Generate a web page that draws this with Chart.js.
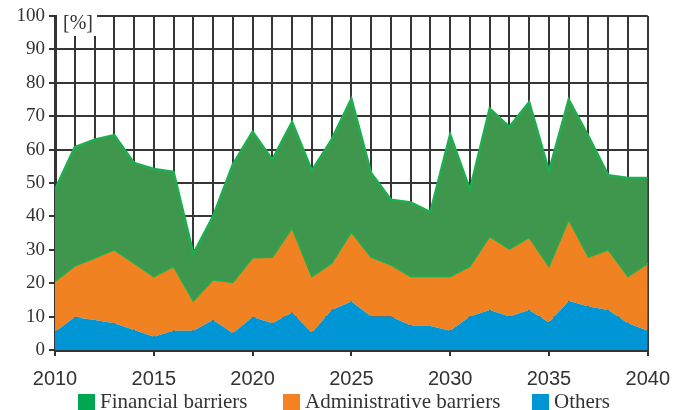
<!DOCTYPE html>
<html>
<head>
<meta charset="utf-8">
<script src="https://cdn.jsdelivr.net/npm/chart.js@4.4.0/dist/chart.umd.min.js"></script>
<style>
  html, body { margin: 0; padding: 0; background: #fff; }
  #wrap { width: 681px; height: 410px; }
</style>
</head>
<body>
<div id="wrap"><canvas id="myChart" width="681" height="410"></canvas></div>
<script>
const years = [2010, 2011, 2012, 2013, 2014, 2015, 2016, 2017, 2018, 2019, 2020,
    2021, 2022, 2023, 2024, 2025, 2026, 2027, 2028, 2029, 2030,
    2031, 2032, 2033, 2034, 2035, 2036, 2037, 2038, 2039, 2040];

// values per series (stacked on top of each other)
const others = [5.5, 9.8, 9, 8, 6, 4, 5.8, 5.8, 9, 5, 9.9,
    8, 11.2, 5.2, 12, 14.5, 10, 10, 7.3, 7.2, 5.8,
    10, 12, 10, 12, 8.2, 14.7, 13, 12, 8, 5.8];
const administrative = [15, 15.4, 18.5, 22, 20, 18, 19.2, 8.9, 12, 15.2, 17.7,
    19.8, 25.3, 16.8, 14, 20.8, 17.8, 15.5, 14.7, 14.8, 16.2,
    15, 22, 20.2, 21.7, 16.8, 24.3, 14.8, 18, 14, 20.2];
const financial = [27.5, 35.5, 35.5, 34.3, 30, 32.2, 28.3, 14.1, 19, 35.3, 37.7,
    29.2, 31.8, 31.7, 37, 39.9, 25.2, 19.5, 22.2, 19.3, 42.5,
    23, 38.3, 36.6, 40.5, 28.5, 36, 36.2, 22.3, 29.5, 25.5];

const seriesNames = ['Financial barriers', 'Administrative barriers', 'Others'];
const xTickLabels = [2010, 2015, 2020, 2025, 2030, 2035, 2040];
const yUnit = '[%]';

const gridColor = '#363636';
const ctx = document.getElementById('myChart').getContext('2d');

const pts = (arr) => years.map((yr, i) => ({ x: yr, y: arr[i] }));

// white box with the unit label in the top left corner
const unitLabel = {
    id: 'unitLabel',
    afterDatasetsDraw(chart) {
        const c = chart.ctx;
        const left = chart.chartArea.left;
        c.save();
        c.fillStyle = '#fff';
        c.fillRect(left + 2, 8, 40, 28);
        c.fillStyle = '#333';
        c.font = '20px "Liberation Serif", "Times New Roman", serif';
        c.textAlign = 'center';
        c.textBaseline = 'middle';
        c.fillText(yUnit, left + 23, 24);
        c.restore();
    }
};

// legend row under the axis
const bottomLegend = {
    id: 'bottomLegend',
    afterDraw(chart) {
        const c = chart.ctx;
        const items = [
            { text: seriesNames[0], color: '#00a650', box: 78 },
            { text: seriesNames[1], color: '#f58220', box: 283 },
            { text: seriesNames[2], color: '#0096d6', box: 532 },
        ];
        c.save();
        c.font = '21px "Liberation Serif", "Times New Roman", serif';
        c.textBaseline = 'alphabetic';
        c.textAlign = 'left';
        items.forEach(it => {
            c.fillStyle = it.color;
            c.fillRect(it.box, 394, 17, 17);
            c.fillStyle = '#333';
            c.fillText(it.text, it.box + 22, 408);
        });
        c.restore();
    }
};

const myChart = new Chart(ctx, {
    type: 'line',
    plugins: [unitLabel, bottomLegend],
    data: {
        datasets: [
            {
                label: seriesNames[2],
                data: pts(others),
                backgroundColor: '#0096d6',
                borderWidth: 0,
                fill: 'origin',
                pointRadius: 0,
                tension: 0,
            },
            {
                label: seriesNames[1],
                data: pts(administrative),
                backgroundColor: '#f08222',
                borderColor: '#1fae4f',
                borderWidth: 1.5,
                fill: '-1',
                pointRadius: 0,
                tension: 0,
            },
            {
                label: seriesNames[0],
                data: pts(financial),
                backgroundColor: '#3f974d',
                borderColor: '#1fae4f',
                borderWidth: 2.5,
                fill: '-1',
                pointRadius: 0,
                tension: 0,
            },
        ],
    },
    options: {
        responsive: false,
        devicePixelRatio: 1,
        animation: false,
        layout: { padding: { top: 16, right: 30, left: 0, bottom: 0 } },
        plugins: {
            legend: { display: false },
            tooltip: { enabled: false },
        },
        scales: {
            x: {
                type: 'linear',
                min: 2010,
                max: 2040,
                afterFit: (s) => { s.height = 60; },
                ticks: {
                    stepSize: 1,
                    autoSkip: false,
                    maxRotation: 0,
                    padding: 11,
                    color: '#333',
                    font: { family: '"Liberation Sans", Arial, sans-serif', size: 20 },
                    callback: (v) => xTickLabels.includes(v) ? String(v) : '',
                },
                grid: {
                    color: gridColor,
                    lineWidth: 2,
                    tickLength: 6,
                    tickWidth: 2,
                    tickColor: (c) => (c.tick && xTickLabels.includes(c.tick.value)) ? '#333' : 'rgba(0,0,0,0)',
                },
                border: { color: '#333', width: 3 },
            },
            y: {
                stacked: true,
                min: 0,
                max: 100,
                afterFit: (s) => { s.width = 55; },
                ticks: {
                    stepSize: 10,
                    padding: 4,
                    color: '#333',
                    font: { family: '"Liberation Serif", "Times New Roman", serif', size: 19 },
                },
                grid: {
                    color: gridColor,
                    lineWidth: 2,
                    tickLength: 6,
                    tickWidth: 2,
                    tickColor: '#333',
                },
                border: { color: '#333', width: 3 },
            },
        },
    },
});
</script>
</body>
</html>
